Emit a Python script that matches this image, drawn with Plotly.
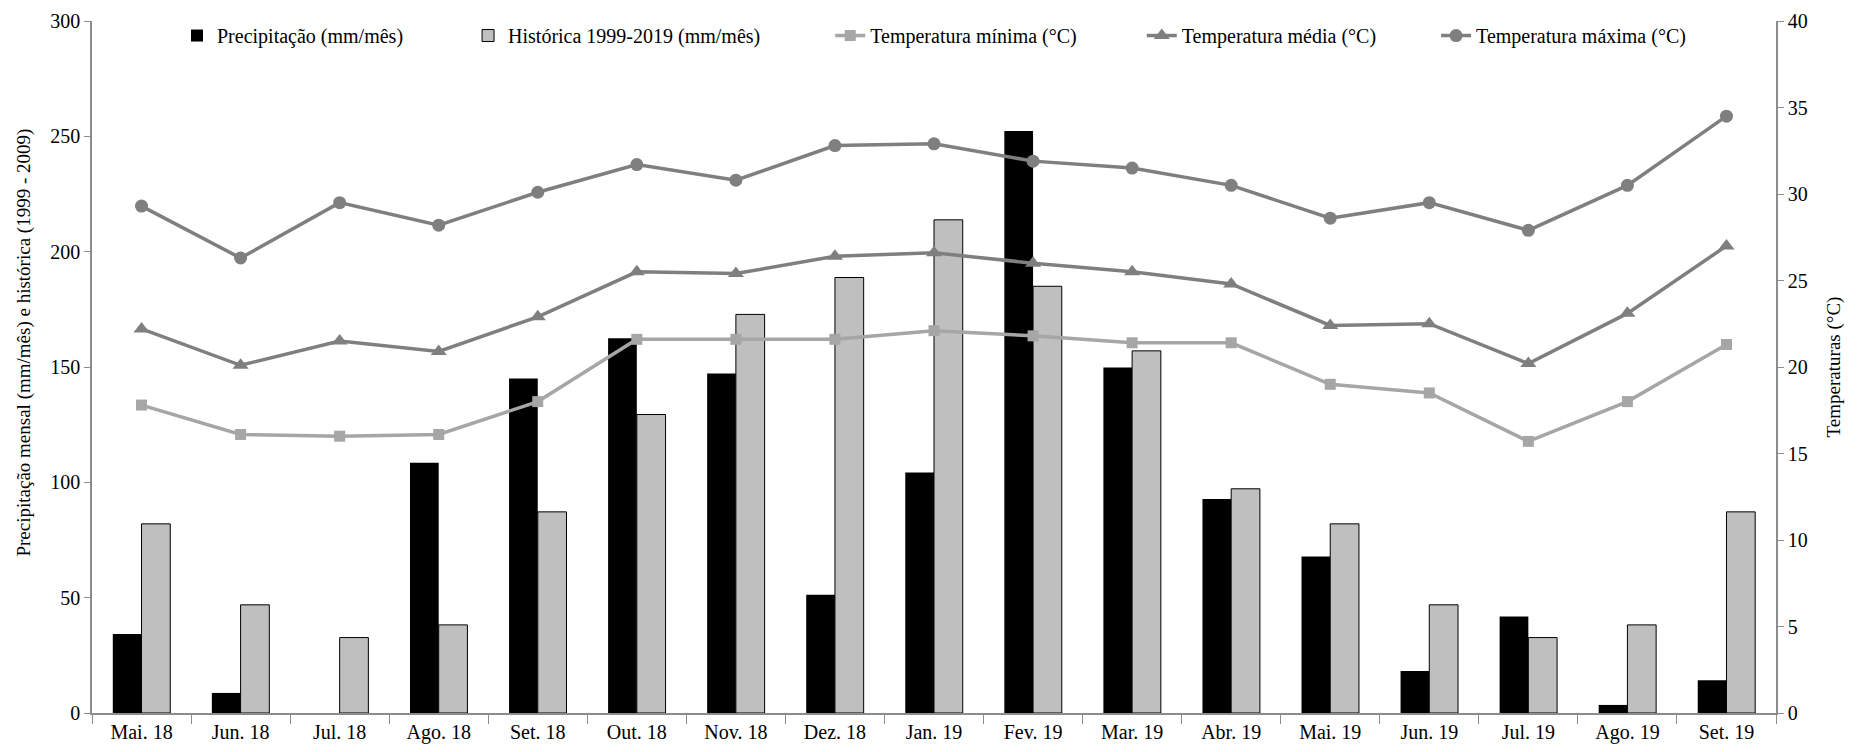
import plotly.graph_objects as go

months = ["Mai. 18", "Jun. 18", "Jul. 18", "Ago. 18", "Set. 18", "Out. 18", "Nov. 18", "Dez. 18",
          "Jan. 19", "Fev. 19", "Mar. 19", "Abr. 19", "Mai. 19", "Jun. 19", "Jul. 19", "Ago. 19", "Set. 19"]

precipitacao = [34.2, 8.7, 0, 108.5, 145, 162.5, 147.2, 51.3, 104.3, 252.3, 149.8, 92.8, 67.8, 18.2, 41.8, 3.5, 14.2]
historica = [82.0, 46.9, 32.7, 38.2, 87.2, 129.4, 172.8, 188.8, 213.8, 185.0, 157.0, 97.2, 82.0, 46.9, 32.7, 38.2, 87.2]

temp_min = [17.8, 16.1, 16.0, 16.1, 18.0, 21.6, 21.6, 21.6, 22.1, 21.8, 21.4, 21.4, 19.0, 18.5, 15.7, 18.0, 21.3]
temp_med = [22.2, 20.1, 21.5, 20.9, 22.9, 25.5, 25.4, 26.4, 26.6, 26.0, 25.5, 24.8, 22.4, 22.5, 20.2, 23.1, 27.0]
temp_max = [29.3, 26.3, 29.5, 28.2, 30.1, 31.7, 30.8, 32.8, 32.9, 31.9, 31.5, 30.5, 28.6, 29.5, 27.9, 30.5, 34.5]

FONT = "Liberation Serif, Times New Roman, serif"
AXIS_GRAY = "#8c8c8c"

def nb(n):
    return "\u00a0" * n

fig = go.Figure()
fig.add_trace(go.Bar(x=months, y=precipitacao, name="Precipitação (mm/mês)" + nb(12),
                     marker=dict(color="#000000", line=dict(width=0)), yaxis="y"))
fig.add_trace(go.Bar(x=months, y=historica, name="Histórica 1999-2019 (mm/mês)" + nb(13),
                     marker=dict(color="#BFBFBF", line=dict(color="#000000", width=1)), yaxis="y"))
fig.add_trace(go.Scatter(x=months, y=temp_min, name="Temperatura mínima (°C)" + nb(12), mode="lines+markers",
                         line=dict(color="#A6A6A6", width=3.5),
                         marker=dict(symbol="square", size=11, color="#A6A6A6"), yaxis="y2"))
fig.add_trace(go.Scatter(x=months, y=temp_med, name="Temperatura média (°C)" + nb(11), mode="lines+markers",
                         line=dict(color="#7F7F7F", width=3.5),
                         marker=dict(symbol="triangle-up", size=14, color="#7F7F7F"), yaxis="y2"))
fig.add_trace(go.Scatter(x=months, y=temp_max, name="Temperatura máxima (°C)", mode="lines+markers",
                         line=dict(color="#7F7F7F", width=3.5),
                         marker=dict(symbol="circle", size=13, color="#7F7F7F"), yaxis="y2"))

fig.add_annotation(text="Precipitação mensal (mm/mês) e histórica (1999 - 2009)",
                   xref="paper", yref="paper", x=-0.0405, y=0.535, textangle=-90,
                   showarrow=False, font=dict(family=FONT, size=19, color="black"),
                   xanchor="center", yanchor="middle")

fig.update_layout(
    width=1841, height=736,
    margin=dict(l=84, r=73, t=8, b=31),
    paper_bgcolor="white", plot_bgcolor="white",
    font=dict(family=FONT, size=20, color="black"),
    barmode="group", bargap=0.42, bargroupgap=0,
    showlegend=True,
    legend=dict(orientation="h", x=0.5, xanchor="center", y=0.979, yanchor="middle",
                bgcolor="rgba(0,0,0,0)", font=dict(family=FONT, size=20), traceorder="normal"),
    xaxis=dict(type="category", range=[-0.5, len(months) - 0.5], showline=True, linecolor=AXIS_GRAY,
               linewidth=1.5, ticks="outside", tickson="boundaries", ticklen=9, tickcolor=AXIS_GRAY,
               showgrid=False, automargin=False, tickfont=dict(size=20)),
    yaxis=dict(range=[0, 300], dtick=50, showline=True, linecolor=AXIS_GRAY, linewidth=1.5,
               ticks="outside", ticklen=6, tickcolor=AXIS_GRAY, showgrid=False, zeroline=False,
               automargin=False, tickfont=dict(size=20)),
    yaxis2=dict(range=[0, 40], dtick=5, overlaying="y", side="right", showline=True,
                linecolor=AXIS_GRAY, linewidth=1.5, ticks="outside", ticklen=6, tickcolor=AXIS_GRAY,
                showgrid=False, zeroline=False, automargin=False, tickfont=dict(size=20),
                title=dict(text="Temperaturas (°C)", font=dict(size=19), standoff=20)),
)

fig.write_html("out.html")
